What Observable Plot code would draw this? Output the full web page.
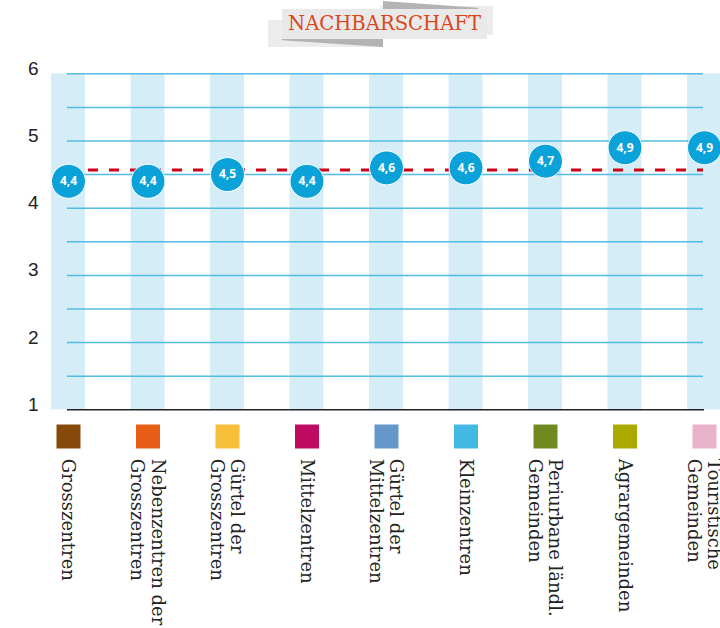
<!DOCTYPE html>
<html>
<head>
<meta charset="utf-8">
<script src="https://cdn.jsdelivr.net/npm/d3@7"></script>
<script src="https://cdn.jsdelivr.net/npm/@observablehq/plot@0.6"></script>
<style>
  html, body { margin: 0; padding: 0; background: #fff; overflow: hidden; width: 720px; height: 628px; }
  #wrap { position: relative; width: 720px; height: 628px; }
  #chart { position: absolute; left: 0; top: 0; }
  .banner { position: absolute; }
  #title { position: absolute; left: 282px; top: 9px; width: 205px; height: 30px; line-height: 30px; text-align: center;
           font-family: "DejaVu Serif", serif; font-size: 19.6px; color: #d9471b; }
</style>
</head>
<body>
<div id="wrap">
  <div id="chart"></div>
  <div class="banner" style="left:268px;top:20px;width:114px;height:27px;background:#ececec"></div>
  <div class="banner" style="left:380px;top:6px;width:113px;height:29px;background:#ececec"></div>
  <div class="banner" style="left:383px;top:1px;width:95px;height:8px;background:#b3b3b3;clip-path:polygon(0 0,100% 85%,100% 100%,0 100%)"></div>
  <div class="banner" style="left:282px;top:39px;width:101px;height:8px;background:#b3b3b3;clip-path:polygon(0 0,100% 0,100% 100%,0 15%)"></div>
  <div class="banner" style="left:282px;top:9px;width:205px;height:30px;background:#e9e9e9"></div>
  <div id="title">NACHBARSCHAFT</div>
</div>
<script>
const categories = [
  "Grosszentren",
  "Nebenzentren der\nGrosszentren",
  "Gürtel der\nGrosszentren",
  "Mittelzentren",
  "Gürtel der\nMittelzentren",
  "Kleinzentren",
  "Periurbane ländl.\nGemeinden",
  "Agrargemeinden",
  "Touristische\nGemeinden"
];
const values = [4.4, 4.4, 4.5, 4.4, 4.6, 4.6, 4.7, 4.9, 4.9];
const valueLabels = ["4,4", "4,4", "4,5", "4,4", "4,6", "4,6", "4,7", "4,9", "4,9"];
const colors = ["#874a0a", "#e95e17", "#f8bf3a", "#bf0a62", "#6597cb", "#43b8e3", "#718a20", "#abaa00", "#e8b3cb"];
const average = 4.57;
const yTicks = [1, 2, 3, 4, 5, 6];
const gridValues = [1.5, 2, 2.5, 3, 3.5, 4, 4.5, 5, 5.5, 6];

const data = categories.map((c, i) => ({cat: c, value: values[i], label: valueLabels[i], color: colors[i]}));
const yMin = d3.min(yTicks), yMax = d3.max(yTicks);

const chart = Plot.plot({
  width: 720,
  height: 628,
  marginTop: 73.3,
  marginBottom: 218.7,
  marginLeft: 0,
  marginRight: 0,
  x: {type: "band", domain: categories, range: [5.5, 766.5], padding: 0.5723, round: false, axis: null},
  y: {domain: [yMin, yMax], axis: null},
  color: {type: "identity"},
  marks: [
    Plot.barY(data, {x: "cat", y1: yMin, y2: yMax, fill: "#d5edf7"}),
    Plot.ruleY(gridValues, {stroke: "#52bce4", strokeWidth: 1.5, insetLeft: 67, insetRight: 17}),
    Plot.ruleY([yMin], {stroke: "#222", strokeWidth: 1.5, insetLeft: 67, insetRight: 16}),
    Plot.ruleY([average], {stroke: "#d0021b", strokeWidth: 3, strokeDasharray: "10,11", insetLeft: 67, insetRight: 17}),
    Plot.dot(data, {x: "cat", y: "value", r: 17, fill: "#0ba2da", stroke: "white", strokeWidth: 1}),
    Plot.text(data, {x: "cat", y: "value", text: "label", fill: "white", fontWeight: "bold", fontSize: 12, fontFamily: "Open Sans"}),
    Plot.text(yTicks, {y: d => d, text: d => String(d), frameAnchor: "left", dx: 38, dy: -5, textAnchor: "end", fontSize: 19, fontFamily: "Liberation Sans", fill: "#222"}),
    Plot.dot(data, {x: "cat", frameAnchor: "bottom", dy: 26.7, symbol: "square", r: 24 / Math.sqrt(Math.PI), fill: "color"}),
    Plot.text(data, {x: "cat", text: "cat", frameAnchor: "bottom", dy: 49, rotate: 90, textAnchor: "start", lineAnchor: "middle", lineHeight: 1.12, fontSize: 18, fontFamily: "DejaVu Serif", fill: "#222"})
  ]
});
document.getElementById("chart").appendChild(chart);
</script>
</body>
</html>
